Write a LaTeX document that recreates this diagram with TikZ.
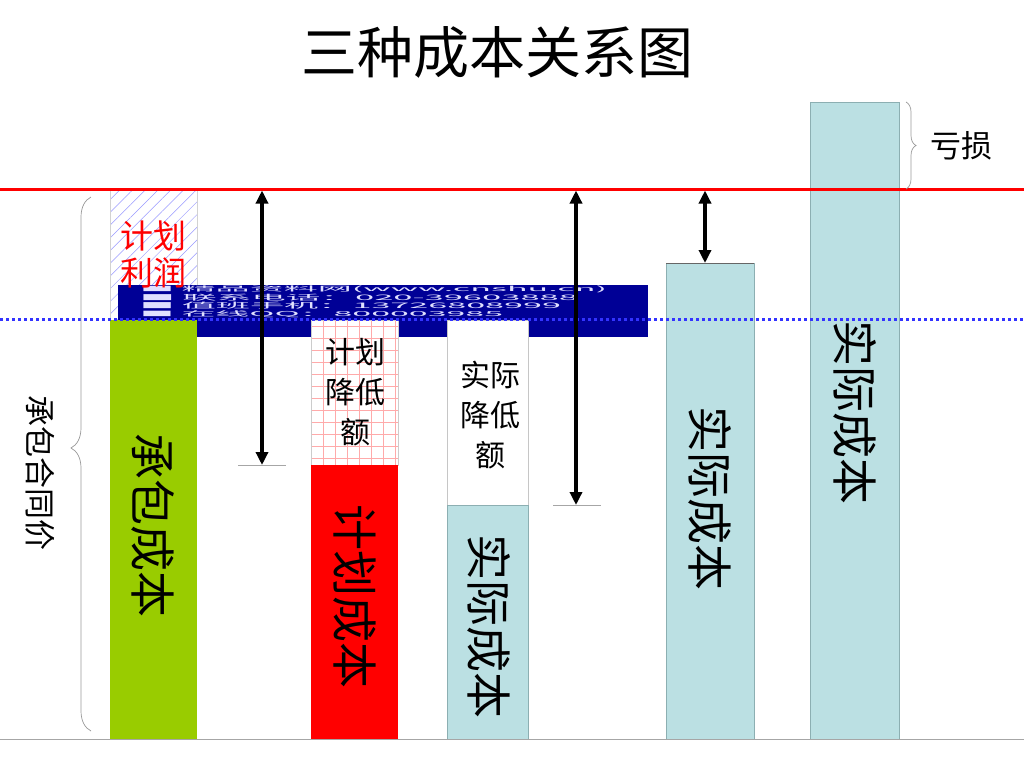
\documentclass[tikz,border=0pt]{standalone}
\usepackage{fontspec}
\usepackage{graphicx}
\newfontfamily\cjk{Noto Sans CJK SC}
\usetikzlibrary{arrows.meta,patterns.meta,decorations.pathreplacing}
\definecolor{barblue}{RGB}{187,224,227}
\definecolor{barblueedge}{RGB}{140,175,178}
\definecolor{bargreen}{RGB}{153,204,0}
\definecolor{bannerblue}{RGB}{0,0,150}
\definecolor{dotblue}{RGB}{51,51,255}
\definecolor{gridred}{RGB}{255,170,170}
\begin{document}
\begin{tikzpicture}[x=1pt,y=-1pt,
  every node/.style={inner sep=0pt,outer sep=0pt},
  dimarrow/.style={line width=3.6pt,black,{Triangle[length=13pt,width=12pt]}-{Triangle[length=13pt,width=12pt]}},
  tickline/.style={gray!70,line width=0.8pt},
  bracestyle/.style={decorate,gray!80,line width=0.7pt},
  midlabel/.style={font=\cjk\fontsize{30}{40}\selectfont,align=center},
  barlabel/.style={font=\cjk\fontsize{46}{46}\selectfont,rotate=-90},
  bannertext/.style={anchor=west,text=white!88!blue}
]
\useasboundingbox (0,0) rectangle (1024,768);
\fill[white] (0,0) rectangle (1024,768);

% title
\node[font=\cjk\fontsize{56}{56}\selectfont] (title) at (497,52) {三种成本关系图};

% planned profit (hatched)
\fill[pattern={Lines[angle=45,distance=9pt,line width=0.5pt]},pattern color=blue!40] (110,189) rectangle (197,320);
\draw[gray!35,line width=0.6pt] (110,189) rectangle (197,320);

% watermark banner
\fill[bannerblue] (118,285) rectangle (648,337);
\node[bannertext] (bl1) at (140,289) {\resizebox*{467pt}{7pt}{\cjk ■ 精品资料网(www.cnshu.cn)}};
\node[bannertext] (bl2) at (140,297.5) {\resizebox*{438pt}{7pt}{\cjk ■ 联系电话：020-39603888}};
\node[bannertext] (bl3) at (140,306) {\resizebox*{421pt}{7pt}{\cjk ■ 值班手机：13726808999}};
\node[bannertext] (bl4) at (140,314.5) {\resizebox*{363pt}{7pt}{\cjk ■ 在线QQ：800003985}};

% bars
\fill[bargreen] (110,320) rectangle (197,739);

\fill[white] (311,320) rectangle (398,465);
\foreach \gx in {311,323,...,398} \draw[gridred,line width=0.6pt] (\gx,320) -- (\gx,465);
\foreach \gy in {326,338,...,465} \draw[gridred,line width=0.6pt] (311,\gy) -- (398,\gy);
\draw[gray!40,line width=0.6pt] (311,320) rectangle (398,465);
\fill[red] (311,465) rectangle (398,739);

\filldraw[fill=white,draw=gray!45,line width=0.8pt] (447,320) rectangle (528,505);
\filldraw[fill=barblue,draw=barblueedge,line width=0.6pt] (447,505) rectangle (528,739);

\filldraw[fill=barblue,draw=barblueedge,line width=0.6pt] (666,263) rectangle (754,739);
\draw[gray!80!black,line width=0.8pt] (666,263) -- (754,263);
\filldraw[fill=barblue,draw=barblueedge,line width=0.6pt] (810,102) rectangle (899,739);

% reference lines
\coordinate (redL) at (0,189);
\coordinate (redR) at (1024,189);
\coordinate (blueL) at (0,319);
\coordinate (blueR) at (1024,319);
\coordinate (baseL) at (0,739);
\coordinate (baseR) at (1024,739);
\draw[gray!70,line width=1pt] (baseL) -- (baseR);
\draw[dotblue,line width=3pt,dash pattern=on 3pt off 3pt] (blueL) -- (blueR);
\draw[red,line width=3pt] (redL) -- (redR);

% ticks
\coordinate (t1a) at (238,465); \coordinate (t1b) at (286,465);
\coordinate (t2a) at (553,505); \coordinate (t2b) at (601,505);
\draw[tickline] (t1a) -- (t1b);
\draw[tickline] (t2a) -- (t2b);

% dimension arrows
\coordinate (a1t) at (262,190.5); \coordinate (a1b) at (262,465);
\coordinate (a2t) at (576,190.5); \coordinate (a2b) at (576,505);
\coordinate (a3t) at (705,190.5); \coordinate (a3b) at (705,263);
\draw[dimarrow] (a1t) -- (a1b);
\draw[dimarrow] (a2t) -- (a2b);
\draw[dimarrow] (a3t) -- (a3b);

% braces
\coordinate (rbT) at (906,102); \coordinate (rbB) at (906,189);
\draw[bracestyle,decoration={brace,amplitude=10pt}] (rbT) -- (rbB);
\coordinate (lbB) at (91,731); \coordinate (lbT) at (91,197);
\draw[bracestyle,decoration={brace,amplitude=20pt,aspect=0.53}] (lbB) -- (lbT);

% labels
\node[font=\cjk\fontsize{33}{37}\selectfont,align=center,text=red] (profit) at (153,254) {计划\\利润};
\node[barlabel] (contract) at (153,525) {承包成本};
\node[midlabel] (plandrop) at (355,392) {计划\\降低\\额};
\node[barlabel] (plan) at (355,596) {计划成本};
\node[midlabel] (actdrop) at (490,415) {实际\\降低\\额};
\node[barlabel] (act1) at (489,626) {实际成本};
\node[barlabel] (act2) at (710,498) {实际成本};
\node[barlabel] (act3) at (855,412) {实际成本};
\node[font=\cjk\fontsize{31}{31}\selectfont] (loss) at (961,146) {亏损};
\node[font=\cjk\fontsize{31}{31}\selectfont,rotate=-90] (price) at (40,473) {承包合同价};
\end{tikzpicture}
\end{document}
